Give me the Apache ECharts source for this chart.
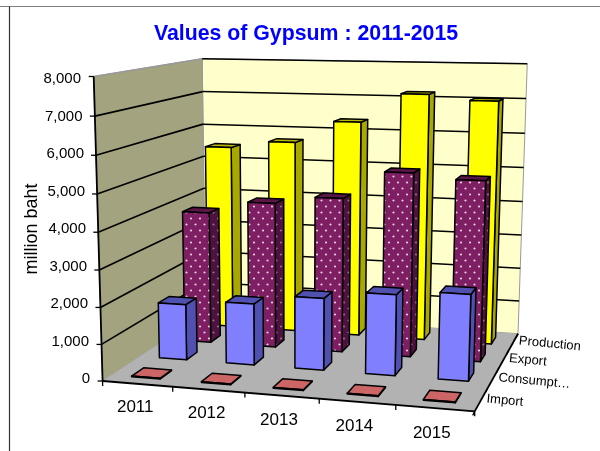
<!DOCTYPE html>
<html><head><meta charset="utf-8">
<style>html,body{margin:0;padding:0;background:#fff}#c{width:600px;height:451px}</style>
<script src="https://cdn.jsdelivr.net/npm/echarts@6/dist/echarts.min.js"></script>
</head><body><div id="c"></div>
<script>
// ---- data ----
var categories = ['2011','2012','2013','2014','2015'];
var depthLabels = ['Import','Consumpt\u2026','Export','Production'];
var yTicks = [0,1000,2000,3000,4000,5000,6000,7000,8000];
var importValues = [20,20,20,20,20];
var consumptionValues = [1580,1720,2000,2220,2350];
var exportValues = [3830,4190,4410,5200,5060];
var productionValues = [5480,5690,6340,7180,7030];

// ---- layout ----
var G = {left:103, top:79, width:372, height:300};
var calib = [
 [[0,0,0],[103,379]],[[0,1,0],[93,77]],[[1,0,0],[475,413]],
 [[1,0,1],[518,332]],[[1,1,1],[527,64]],[[0,0,1],[205,315]],[[0,1,1],[203,58]]
];
var xLabelShift = [[0,5],[6,8],[13,10],[19,9],[26,6]];
var yLabelShift = [0,1,2,3,4,5,6,7.5,9];
var BAR_W = 0.41, BAR_D = 0.42;

function solve(A,b){var n=b.length;for(var i=0;i<n;i++){var p=i;for(var r=i+1;r<n;r++)if(Math.abs(A[r][i])>Math.abs(A[p][i]))p=r;
 var t=A[i];A[i]=A[p];A[p]=t;t=b[i];b[i]=b[p];b[p]=t;
 for(r=i+1;r<n;r++){var f=A[r][i]/A[i][i];for(var c=i;c<n;c++)A[r][c]-=f*A[i][c];b[r]-=f*b[i];}}
 var x=[];for(i=n-1;i>=0;i--){var s=b[i];for(c=i+1;c<n;c++)s-=A[i][c]*x[c];x[i]=s/A[i][i];}return x;}
var M=(function(){var R=[],Y=[];calib.forEach(function(c){var X=c[0][0],Yy=c[0][1],Z=c[0][2],u=c[1][0]/500,v=c[1][1]/500;
 R.push([X,Yy,Z,1,0,0,0,0,-u*X,-u*Yy,-u*Z]);Y.push(u);
 R.push([0,0,0,0,X,Yy,Z,1,-v*X,-v*Yy,-v*Z]);Y.push(v);});
 var A=[],b=[];for(var i=0;i<11;i++){A[i]=[];b[i]=0;for(var j=0;j<11;j++){var s=0;for(var k=0;k<R.length;k++)s+=R[k][i]*R[k][j];A[i][j]=s;}
 for(k=0;k<R.length;k++)b[i]+=R[k][i]*Y[k];}
 return solve(A,b);})();
function P(x,y,z){var w=M[8]*x+M[9]*y+M[10]*z+1;
 return [500*(M[0]*x+M[1]*y+M[2]*z+M[3])/w,500*(M[4]*x+M[5]*y+M[6]*z+M[7])/w];}

function shade(bg,dot){var c=document.createElement('canvas');c.width=9;c.height=12;var g=c.getContext('2d');
 g.fillStyle=bg;g.fillRect(0,0,9,12);g.fillStyle=dot;
 [[2,2.5],[6.5,8.5]].forEach(function(p){g.beginPath();g.arc(p[0],p[1],1.1,0,7);g.fill();});return {type:'pattern',image:c,repeat:'repeat'};}

var STY = [
 {front:'#CC6666',side:'#8F4747',top:'#CC6666'},
 {front:'#8080FF',side:'#5050B0',top:'#5050B0'},
 {front:shade('#7F1F63','#E6CFE0'),side:shade('#4E1240','#8F7088'),top:'#5A1648'},
 {front:'#FFFF00',side:'#A8A800',top:'#B8B800'}
];
function poly(pts,fill,stroke,lw){return {type:'polygon',shape:{points:pts},style:{fill:fill,stroke:stroke===undefined?'#000':stroke,lineWidth:lw===undefined?1.5:lw,lineJoin:'round'}};}
function line(a,b,c,lw){return {type:'line',shape:{x1:a[0],y1:a[1],x2:b[0],y2:b[1]},style:{stroke:c||'#000',lineWidth:lw||1.5},silent:true};}

function barItem(row){return function(params,api){
 var i=api.value(0),v=api.value(1);
 var pc=api.coord([i,v]),p0=api.coord([i,0]);
 var h=(p0[1]-pc[1])/G.height, cx=(pc[0]-G.left)/G.width, hw=BAR_W/categories.length/2, hd=BAR_D/depthLabels.length/2, cz=(row+.5)/depthLabels.length;
 var x0=cx-hw,x1=cx+hw,z0=cz-hd,z1=cz+hd,s=STY[row];
 return {type:'group',children:[
  poly([P(x1,0,z0),P(x1,0,z1),P(x1,h,z1),P(x1,h,z0)],s.side),
  poly([P(x0,h,z0),P(x1,h,z0),P(x1,h,z1),P(x0,h,z1)],s.top),
  poly([P(x0,0,z0),P(x1,0,z0),P(x1,h,z0),P(x0,h,z0)],s.front)
 ]};
};}
function wallsItem(params,api){
 var o=[], ticks=yTicks.map(function(v){return (api.coord([0,0])[1]-api.coord([0,v])[1])/G.height;});
 o.push(poly([P(0,0,1),P(1,0,1),P(1,1,1),P(0,1,1)],'#FFFFCC','#999',1));
 o.push(poly([P(0,0,0),P(0,0,1),P(0,1,1),P(0,1,0)],'#A3A37F','#999',1));
 o.push(poly([P(0,0,0),P(1,0,0),P(1,0,1),P(0,0,1)],'#B2B2B2','none',0));
 ticks.forEach(function(t,k){ if(k===0)return;
  o.push(line(P(0,t,0),P(0,t,1),k===ticks.length-1?'#999':'#000',k===ticks.length-1?1.5:1.6));
  o.push(line(P(0,t,1),P(1,t,1),'#000',1.5));
 });
 ticks.forEach(function(t){var a=P(0,t,0);o.push(line(a,[a[0]-5,a[1]],'#000',1.3));});
 o.push(line(P(0,0,0),P(0,1,0),'#000',1.8));
 o.push(line(P(0,0,0),P(1,0,0),'#000',1.8));
 o.push(line(P(1,0,0),P(1,0,1),'#000',1.8));
 for(var k=0;k<=categories.length;k++){var a=P(k/categories.length,0,0);o.push(line(a,[a[0],a[1]+5],'#000',1.3));}
 for(k=0;k<=depthLabels.length;k++){a=P(1,0,k/depthLabels.length);o.push(line(a,[a[0]-2,a[1]+4],'#000',1.3));}
 return {type:'group',children:o};
}
function depthItem(params,api){
 var k=api.value(0),a=P(1,0,(k+.5)/depthLabels.length);
 return {type:'text',x:a[0]+5.5,y:a[1]-1,rotation:-5.5*Math.PI/180,style:{text:depthLabels[k],x:0,y:0,fill:'#000',font:'13px "Liberation Sans"',textAlign:'left',textVerticalAlign:'middle'}};
}
function rows(a){return a.map(function(v,i){return [i,v];});}
var richX={},richY={};
xLabelShift.forEach(function(s,i){richX['x'+i]={padding:[s[0],2*s[1],0,0],fontSize:17,color:'#000',fontFamily:'Liberation Sans'};});
yLabelShift.forEach(function(s,i){richY['y'+i]={padding:[0,s,0,0],fontSize:15,color:'#000',fontFamily:'Liberation Sans'};});

var chart=echarts.init(document.getElementById('c'),null,{renderer:'canvas'});
var base={type:'custom',coordinateSystem:'cartesian2d',clip:false,silent:true,animation:false};
chart.setOption({
 animation:false,backgroundColor:'#fff',
 title:{text:'Values of Gypsum : 2011-2015',left:301,textAlign:'center',top:19,textStyle:{color:'#0000FF',fontSize:21.3,fontWeight:'bold',fontFamily:'Liberation Sans'}},
 graphic:[
  {type:'line',shape:{x1:0,y1:6.5,x2:600,y2:6.5},style:{stroke:'#808080',lineWidth:1.2},z:10},
  {type:'line',shape:{x1:9.5,y1:6.5,x2:9.5,y2:451},style:{stroke:'#333',lineWidth:1.2},z:10}
 ],
 grid:Object.assign({},G),
 xAxis:{type:'category',data:categories,axisLine:{show:false},axisTick:{show:false},splitLine:{show:false},
  axisLabel:{interval:0,margin:20,hideOverlap:false,formatter:function(v,i){return '{x'+i+'|'+v+'}';},rich:richX}},
 yAxis:{type:'value',min:0,max:8000,interval:1000,name:'million baht',nameLocation:'middle',nameGap:62,nameMoveOverlap:false,
  nameTextStyle:{fontSize:18,color:'#000',fontFamily:'Liberation Sans'},
  axisLine:{show:false},axisTick:{show:false},splitLine:{show:false},
  axisLabel:{margin:13,formatter:function(v){var i=yTicks.indexOf(v);return '{y'+i+'|'+v.toLocaleString('en-US')+'}';},rich:richY}},
 series:[
  Object.assign({},base,{name:'walls',data:[[0,0]],renderItem:wallsItem,encode:{x:0,y:1},z:1}),
  Object.assign({},base,{name:'Production',data:rows(productionValues),renderItem:barItem(3),encode:{x:0,y:1},z:2}),
  Object.assign({},base,{name:'Export',data:rows(exportValues),renderItem:barItem(2),encode:{x:0,y:1},z:3}),
  Object.assign({},base,{name:'Consumption',data:rows(consumptionValues),renderItem:barItem(1),encode:{x:0,y:1},z:4}),
  Object.assign({},base,{name:'Import',data:rows(importValues),renderItem:barItem(0),encode:{x:0,y:1},z:5}),
  Object.assign({},base,{name:'depth',data:depthLabels.map(function(d,i){return [i,0];}),renderItem:depthItem,encode:{x:0,y:1},z:6})
 ]
});
</script></body></html>
